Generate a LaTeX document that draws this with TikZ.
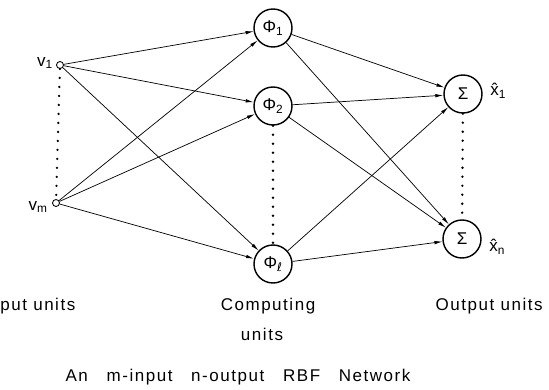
\documentclass[tikz,border=0pt]{standalone}
\usepackage{fontspec}
\setmainfont{Liberation Sans}
\newfontfamily\ellfont{DejaVu Sans}
\usetikzlibrary{arrows.meta}

\tikzset{
  unit/.style={circle, draw, line width=0.5mm, minimum size=38pt, inner sep=0pt, font=\fontsize{17}{19}\selectfont},
  inp/.style={circle, draw, line width=0.3mm, minimum size=7pt, inner sep=0pt},
  dots/.style={line width=2.6pt, dash pattern=on 0pt off 9pt, line cap=round},
  lbl/.style={inner sep=0pt, font=\fontsize{17}{19}\selectfont\addfontfeature{LetterSpace=9}},
}

\begin{document}
\begin{tikzpicture}[x=1pt, y=-1pt, line width=0.25mm, >={Latex[length=8pt,width=3.5pt]}]
  \useasboundingbox (0,0) rectangle (549,389);

  \node[inp] (v1) at (60,65) {};
  \node[inp] (vm) at (56,203) {};
  \node[lbl, anchor=east] (lv1) at (53,63) {v\textsubscript{1}};
  \node[lbl, anchor=east] (lvm) at (48,207) {v\textsubscript{m}};

  \node[unit] (f1) at (273,28) {Φ\textsubscript{1}};
  \node[unit] (f2) at (273,106) {Φ\textsubscript{2}};
  \node[unit] (fl) at (273,264) {Φ\textsubscript{\ellfont ℓ}};

  \node[unit] (s1) at (463,94) {Σ};
  \node[unit] (sn) at (462,239) {Σ};
  \node[lbl, anchor=west] (x1) at (490,91) {\^{x}\textsubscript{1}};
  \node[lbl, anchor=west] (xn) at (489,247) {\^{x}\textsubscript{n}};

  \draw[->] (v1) edge (f1) edge (f2) edge (fl)
            (vm) edge (f1) edge (f2) edge (fl);
  \draw[->] (f1) edge (s1) edge (sn)
            (f2) edge (s1) edge (sn)
            (fl) edge (s1) edge (sn);

  \draw[dots] (v1) -- (vm);
  \draw[dots] (f2) -- (fl);
  \draw[dots] (s1) -- (sn);

  \node[lbl, anchor=west] (tin) at (0,306) {put~units};
  \node[lbl] (tcomp) at (268,306) {Computing};
  \node[lbl] (tunits) at (262,334) {units};
  \node[lbl, anchor=east] (tout) at (543,306) {Output~units};
  \node[lbl] (title) at (238,377) {An~~~m-input~~~n-output~~~RBF~~~Network};
\end{tikzpicture}
\end{document}
